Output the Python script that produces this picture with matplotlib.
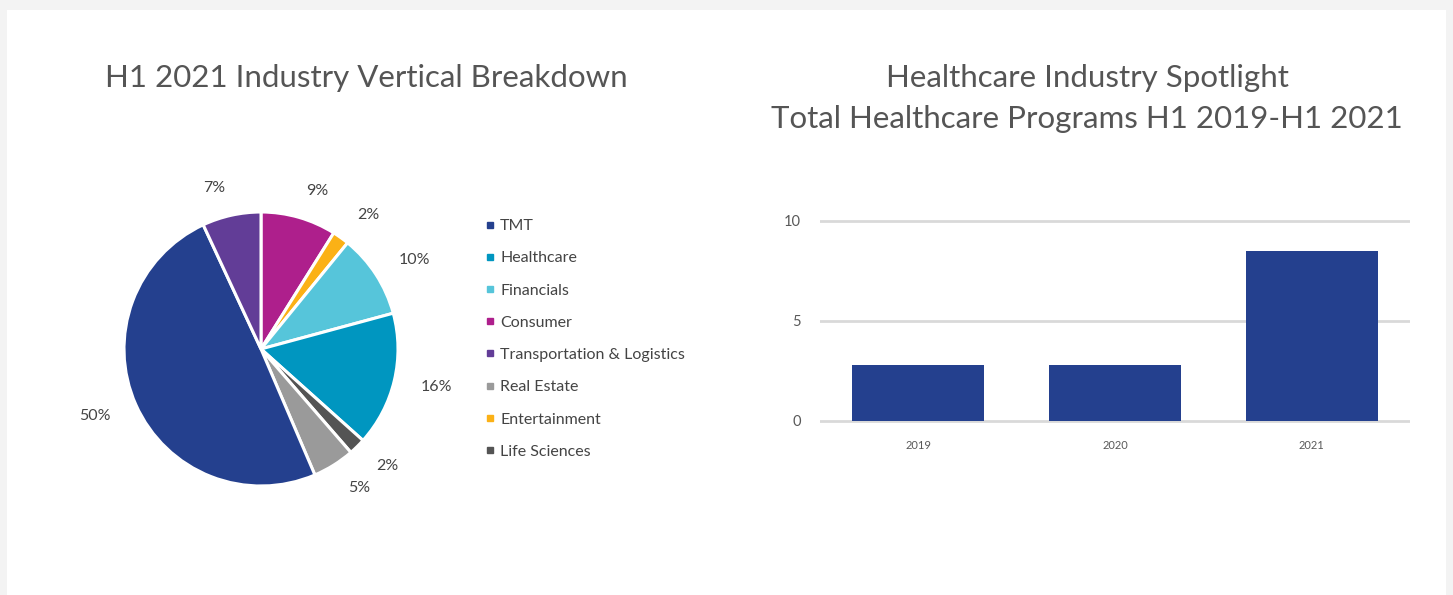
import matplotlib
matplotlib.use("Agg")
import matplotlib.pyplot as plt
from matplotlib.lines import Line2D
from matplotlib.patches import Rectangle

plt.rcParams['font.family'] = ['Lato', 'DejaVu Sans']

# pie data, clockwise from 12 o'clock
pie_labels = ["Consumer", "Entertainment", "Financials", "Healthcare",
              "Life Sciences", "Real Estate", "TMT", "Transportation & Logistics"]
pie_values = [9, 2, 10, 16, 2, 5, 50, 7]
legend_order = ["TMT", "Healthcare", "Financials", "Consumer",
                "Transportation & Logistics", "Real Estate", "Entertainment", "Life Sciences"]
colors = {
    "TMT": "#24408e",
    "Healthcare": "#0096c0",
    "Financials": "#56c5da",
    "Consumer": "#ae1f8c",
    "Transportation & Logistics": "#623d97",
    "Real Estate": "#9a9a9a",
    "Entertainment": "#fbb116",
    "Life Sciences": "#545454",
}

# bar data
years = ["2019", "2020", "2021"]
programs = [2.8, 2.8, 8.5]

W, H = 1453, 595
fig = plt.figure(figsize=(W / 100, H / 100), dpi=100)
fig.patch.set_facecolor("#f3f3f3")
# white card
fig.add_artist(Rectangle((7 / W, 0), (W - 14) / W, (H - 10) / H,
                         transform=fig.transFigure, facecolor="white",
                         edgecolor="none", zorder=0))

text_col = "#444444"
title_col = "#555555"

# ---- pie ----
k = 1.4
R = 137
size = 2 * R * k
ax1 = fig.add_axes([(261 - size / 2) / W, (246 - size / 2) / H, size / W, size / H])
ax1.pie(pie_values, labels=[f"{v}%" for v in pie_values],
        colors=[colors[c] for c in pie_labels],
        startangle=90, counterclock=False, labeldistance=1.2,
        wedgeprops=dict(edgecolor="white", linewidth=2.2),
        textprops=dict(color=text_col, fontsize=11.5))
ax1.set_xlim(-k, k)
ax1.set_ylim(-k, k)
ax1.set_aspect("equal")
ax1.axis("off")

fig.text(366 / W, 1 - 78 / H, "H1 2021 Industry Vertical Breakdown",
         ha="center", va="center", fontsize=22.5, color=title_col)

# legend
handles = [Line2D([], [], marker="s", linestyle="none", markersize=5,
                  color=colors[c]) for c in legend_order]
fig.legend(handles, legend_order, loc="upper left",
           bbox_to_anchor=(477 / W, 1 - 211 / H), frameon=False,
           fontsize=11.5, labelcolor=text_col, handlelength=0.6,
           handletextpad=0.35, labelspacing=1.13, borderpad=0)

# ---- bars ----
ax2 = fig.add_axes([820 / W, 172 / H, 590 / W, 204 / H])
ax2.bar(range(len(years)), programs, width=0.67, color="#24408e", zorder=3)
ax2.set_xlim(-0.5, len(years) - 0.5)
ax2.set_ylim(-0.1, 10.1)
ax2.set_yticks([0, 5, 10])
ax2.set_xticks(range(len(years)))
ax2.set_xticklabels(years)
ax2.yaxis.grid(True, color="#d9d9d9", linewidth=2)
ax2.set_axisbelow(True)
for s in ax2.spines.values():
    s.set_visible(False)
ax2.tick_params(axis="y", length=0, labelsize=10.5, labelcolor="#595959", pad=14)
ax2.tick_params(axis="x", length=0, labelsize=8, labelcolor="#595959", pad=12)

fig.text(1087 / W, 1 - 78 / H, "Healthcare Industry Spotlight",
         ha="center", va="center", fontsize=22.5, color=title_col)
fig.text(1087 / W, 1 - 119 / H, "Total Healthcare Programs H1 2019-H1 2021",
         ha="center", va="center", fontsize=22.5, color=title_col)

fig.savefig("out.png", dpi=100)
